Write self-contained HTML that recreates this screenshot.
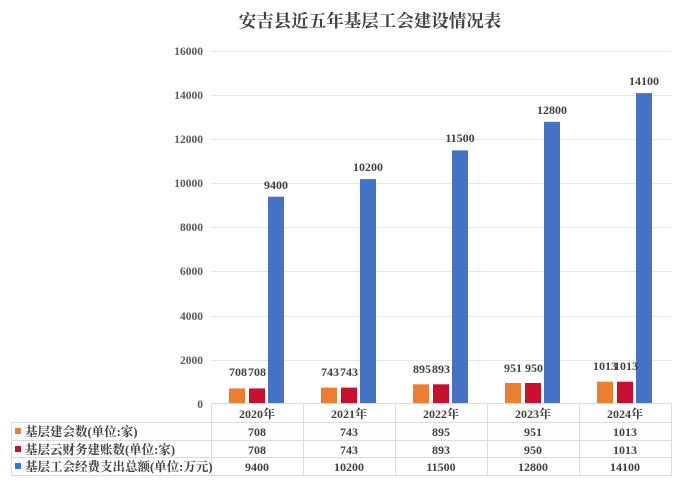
<!DOCTYPE html>
<html><head><meta charset="utf-8"><style>
body{margin:0;background:#fff;}
svg{display:block;font-family:"Liberation Serif","Noto Serif CJK SC",serif;font-weight:bold;}
</style></head><body>
<svg width="700" height="491" viewBox="0 0 700 491" xmlns="http://www.w3.org/2000/svg">
<rect width="700" height="491" fill="#fff"/>
<text x="370" y="27" text-anchor="middle" font-size="17.5" fill="#404040">安吉县近五年基层工会建设情况表</text>
<g stroke="#e6e6e6" stroke-width="1">
<line x1="211" x2="671" y1="51.5" y2="51.5"/>
<line x1="211" x2="671" y1="95.5" y2="95.5"/>
<line x1="211" x2="671" y1="139.5" y2="139.5"/>
<line x1="211" x2="671" y1="183.5" y2="183.5"/>
<line x1="211" x2="671" y1="227.5" y2="227.5"/>
<line x1="211" x2="671" y1="271.5" y2="271.5"/>
<line x1="211" x2="671" y1="316.5" y2="316.5"/>
<line x1="211" x2="671" y1="360.5" y2="360.5"/>
</g>
<g font-size="11.5" fill="#595959" text-anchor="end">
<text x="203" y="55">16000</text><text x="203" y="99">14000</text>
<text x="203" y="143">12000</text><text x="203" y="187">10000</text>
<text x="203" y="231">8000</text><text x="203" y="275">6000</text>
<text x="203" y="320">4000</text><text x="203" y="364">2000</text>
<text x="203" y="408">0</text>
</g>
<g>
<rect x="229" y="388.4" width="16" height="15.6" fill="#ed7d31"/>
<rect x="249" y="388.4" width="16" height="15.6" fill="#c8102e"/>
<rect x="268" y="196.7" width="16" height="207.3" fill="#4472c4"/>
<rect x="321" y="387.6" width="16" height="16.4" fill="#ed7d31"/>
<rect x="341" y="387.6" width="16" height="16.4" fill="#c8102e"/>
<rect x="360" y="179.1" width="16" height="224.9" fill="#4472c4"/>
<rect x="413" y="384.3" width="16" height="19.7" fill="#ed7d31"/>
<rect x="433" y="384.3" width="16" height="19.7" fill="#c8102e"/>
<rect x="452" y="150.4" width="16" height="253.6" fill="#4472c4"/>
<rect x="505" y="383.0" width="16" height="21" fill="#ed7d31"/>
<rect x="525" y="383.0" width="16" height="21" fill="#c8102e"/>
<rect x="544" y="121.8" width="16" height="282.2" fill="#4472c4"/>
<rect x="597" y="381.7" width="16" height="22.3" fill="#ed7d31"/>
<rect x="617" y="381.7" width="16" height="22.3" fill="#c8102e"/>
<rect x="636" y="93.1" width="16" height="310.9" fill="#4472c4"/>
</g>
<g font-size="12" fill="#404040" text-anchor="middle">
<text x="238" y="376">708</text><text x="257" y="376">708</text><text x="276" y="189">9400</text>
<text x="330" y="376">743</text><text x="349" y="376">743</text><text x="368" y="171">10200</text>
<text x="422" y="373">895</text><text x="441" y="373">893</text><text x="460" y="142">11500</text>
<text x="513" y="372">951</text><text x="534" y="372">950</text><text x="552" y="114">12800</text>
<text x="605" y="370">1013</text><text x="626" y="370">1013</text><text x="644" y="85">14100</text>
</g>
<g stroke="#d9dce6" stroke-width="1" fill="none">
<line x1="211" x2="671" y1="403.5" y2="403.5"/>
<line x1="11" x2="671" y1="422.5" y2="422.5"/>
<line x1="11" x2="671" y1="440.5" y2="440.5"/>
<line x1="11" x2="671" y1="457.5" y2="457.5"/>
<line x1="11" x2="671" y1="475.5" y2="475.5"/>
<line x1="11.5" x2="11.5" y1="422" y2="476"/>
<line x1="211.5" x2="211.5" y1="403" y2="476"/>
<line x1="303.5" x2="303.5" y1="403" y2="476"/>
<line x1="395.5" x2="395.5" y1="403" y2="476"/>
<line x1="487.5" x2="487.5" y1="403" y2="476"/>
<line x1="579.5" x2="579.5" y1="403" y2="476"/>
<line x1="671.5" x2="671.5" y1="403" y2="476"/>
</g>
<rect x="15" y="428" width="6" height="6" fill="#ed7d31"/>
<rect x="15" y="446" width="6" height="6" fill="#c8102e"/>
<rect x="15" y="463" width="6" height="6" fill="#2e75e6"/>
<g font-size="12.5" fill="#404040">
<text x="25" y="436">基层建会数(单位:家)</text>
<text x="25" y="454">基层云财务建账数(单位:家)</text>
<text x="25" y="471">基层工会经费支出总额(单位:万元)</text>
</g>
<g font-size="12" fill="#404040" text-anchor="middle">
<text x="257" y="418">2020年</text><text x="349" y="418">2021年</text><text x="441" y="418">2022年</text><text x="533" y="418">2023年</text><text x="625" y="418">2024年</text>
<text x="257" y="436">708</text><text x="349" y="436">743</text><text x="441" y="436">895</text><text x="533" y="436">951</text><text x="625" y="436">1013</text>
<text x="257" y="454">708</text><text x="349" y="454">743</text><text x="441" y="454">893</text><text x="533" y="454">950</text><text x="625" y="454">1013</text>
<text x="257" y="471">9400</text><text x="349" y="471">10200</text><text x="441" y="471">11500</text><text x="533" y="471">12800</text><text x="625" y="471">14100</text>
</g>
</svg>
</body></html>
